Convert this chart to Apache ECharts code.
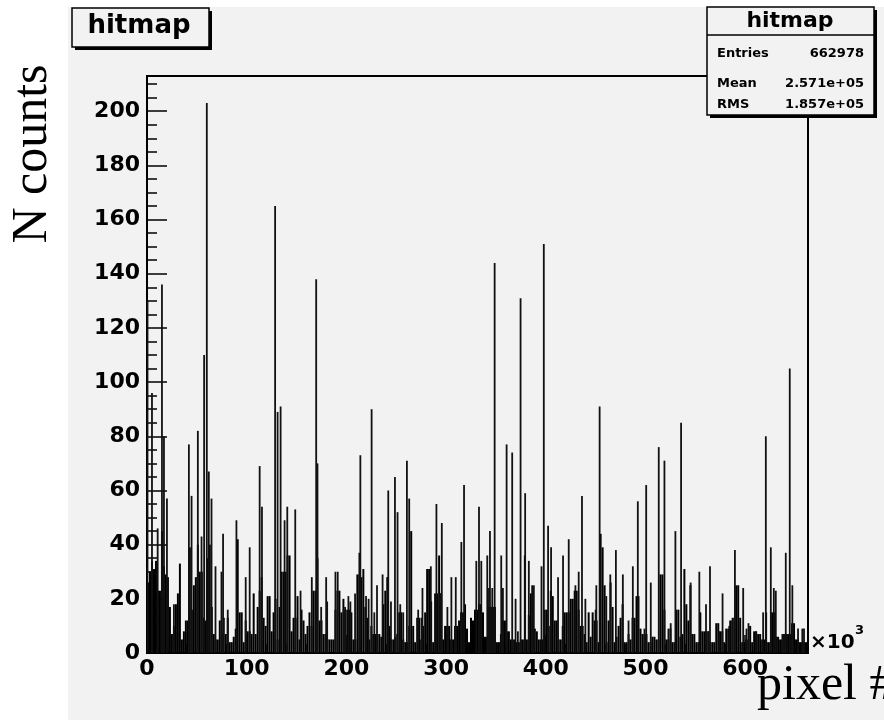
<!DOCTYPE html>
<html>
<head>
<meta charset="utf-8">
<title>hitmap</title>
<script src="https://cdn.jsdelivr.net/npm/echarts@6/dist/echarts.min.js"></script>
<style>
  html, body { margin: 0; padding: 0; background: #fff; }
  #main { width: 884px; height: 720px; }
</style>
</head>
<body>
<div id="main"></div>
<script>
  // histogram "hitmap": counts per pixel, x in units of 10^3 pixels
  var binWidth = 2;
  // bulk level of each 2k-wide bin (x = 0, 2, 4 ... 660)
  var fillLevels = [
    26, 30, 34, 31, 34, 23, 23, 45, 32, 29,
    28, 17, 7, 10, 18, 22, 33, 5, 8, 12,
    12, 39, 16, 25, 28, 40, 30, 30, 13, 12,
    35, 40, 17, 7, 5, 5, 12, 7, 13, 7,
    13, 4, 4, 6, 9, 42, 15, 15, 4, 12,
    8, 8, 7, 22, 7, 17, 23, 28, 13, 10,
    21, 21, 8, 15, 20, 5, 17, 30, 30, 30,
    36, 36, 8, 13, 13, 21, 5, 16, 12, 7,
    10, 15, 10, 23, 23, 35, 12, 12, 7, 7,
    5, 5, 5, 5, 16, 23, 23, 15, 20, 16,
    16, 16, 15, 5, 5, 29, 29, 28, 31, 17,
    13, 5, 10, 7, 7, 7, 7, 6, 18, 23,
    28, 10, 5, 5, 6, 7, 15, 15, 5, 4,
    4, 10, 45, 10, 4, 13, 13, 5, 10, 15,
    31, 31, 19, 4, 22, 22, 36, 22, 5, 10,
    10, 10, 5, 5, 10, 10, 12, 15, 15, 18,
    9, 4, 13, 12, 16, 16, 18, 18, 15, 6,
    6, 17, 17, 17, 17, 4, 4, 7, 12, 12,
    8, 8, 5, 5, 5, 4, 4, 5, 5, 36,
    5, 14, 22, 9, 9, 8, 5, 5, 5, 16,
    16, 10, 23, 21, 12, 12, 5, 5, 10, 15,
    15, 15, 20, 20, 23, 23, 16, 10, 10, 7,
    4, 15, 6, 15, 12, 12, 4, 44, 39, 25,
    4, 12, 26, 17, 4, 6, 10, 13, 18, 4,
    4, 7, 5, 13, 13, 21, 21, 9, 7, 7,
    7, 4, 4, 6, 6, 5, 5, 29, 29, 16,
    5, 5, 9, 4, 4, 16, 16, 6, 7, 31,
    18, 12, 25, 7, 7, 4, 4, 15, 8, 8,
    8, 8, 4, 4, 4, 11, 11, 8, 8, 4,
    9, 9, 12, 12, 13, 25, 25, 13, 4, 4,
    5, 5, 10, 4, 8, 8, 7, 7, 5, 5,
    15, 4, 4, 15, 15, 6, 6, 5, 5, 7,
    7, 7, 7, 11, 11, 5, 5, 4, 4, 4,
    4
  ];
  // single hot bins that stick out of the bulk
  var spikePos = [
    0.5, 5, 10.7, 15, 17, 20, 27, 42, 44.7, 51, 54.7, 57.3, 60, 62, 64.7, 68.7,
    74.7, 76.3, 81, 89.7, 99, 103, 113, 115.3, 128.5, 131, 134, 138, 140.7,
    148.7, 154, 165.3, 169.7, 171, 174.7, 179.7, 180.7, 189, 191.3, 197.3,
    198.7, 202, 204, 208.7, 213, 214,
    219.7, 222.3, 225.3, 228, 230.7, 236.3, 242, 244.7, 248.7, 251.3, 254, 257,
    260.7, 263, 272, 275.3, 276.3, 284.7, 290.3, 294, 295.7, 301.3, 305.3,
    309.7, 315.3, 318, 330.3, 333, 335.3, 341.3, 343, 344, 346.3, 348.7, 355.3,
    357, 360.7, 366.3, 369.7, 372, 374.7, 379.3, 383, 386.3, 388, 395.7, 398,
    402.3, 405.3, 412.3, 417.3, 423, 429.7, 433, 436.3,
    439.7, 450, 450.7, 454, 460.7, 464.7, 470.3, 477.3, 483, 487.3, 492.3, 499,
    500.7, 505.3, 513.3, 519, 523, 525.3, 530, 535.7, 545.3, 554, 560.7, 563,
    564.7, 574, 577.3, 584, 587.3, 589.7, 598, 601.3, 603.3, 610.7, 618, 620.7,
    625.7, 628.7, 630.7, 637.3, 639, 640.7, 644.7, 647.3, 653, 657.3, 659
  ];
  var spikeCount = [
    130, 96, 46, 136, 80, 57, 18, 77, 58, 82, 43, 110, 203, 67, 57, 32,
    30, 44, 16, 49, 28, 39, 69, 54, 165, 89, 91, 49, 54,
    53, 23, 28, 138, 70, 17, 28, 19, 30, 30, 16,
    17, 21, 19, 22, 37, 73,
    21, 20, 90, 15, 25, 29, 60, 19, 65, 52, 18, 15,
    71, 57, 16, 13, 24, 32, 55, 22, 48, 17, 28,
    28, 41, 62, 34, 54, 34, 36, 24, 45, 24, 144, 36,
    24, 77, 74, 20, 8, 131, 59, 34, 25, 25, 32, 151,
    47, 39, 28, 36, 42, 25, 30, 58,
    20, 16, 25, 91, 21, 29, 38, 29, 12, 32, 56, 9,
    62, 26, 76, 71, 9, 11, 45, 85, 26, 30, 18, 8,
    32, 8, 22, 10, 13, 38, 24, 9, 11, 8, 15, 80,
    39, 24, 23, 7, 7, 37, 105, 25, 9, 9, 9
  ];
  var xMax = 663;
  var yMax = 213;
  var statLabels = ['Entries', 'Mean', 'RMS'];
  var statValues = ['662978', '2.571e+05', '1.857e+05'];

  var bold = 'DejaVu Sans';
  var serif = 'Liberation Serif';

  var fillData = fillLevels.map(function (v, i) {
    return [i * binWidth, (i + 1) * binWidth, v];
  });
  var spikeData = spikePos.map(function (x, i) {
    return [x, spikeCount[i]];
  });

  var myChart = echarts.init(document.getElementById('main'), null, { renderer: 'canvas' });

  function label(text, x, y, font, align, extra) {
    var el = {
      type: 'text', z: 102, x: x, y: y,
      style: { text: text, fill: '#000', font: font, textAlign: align, textVerticalAlign: 'middle' }
    };
    if (extra) { for (var k in extra) el[k] = extra[k]; }
    return el;
  }

  var statGraphics = [];
  var statRowY = [54, 83.5, 104.5];
  statLabels.forEach(function (name, i) {
    statGraphics.push(label(name, 717, statRowY[i], 'bold 13px "' + bold + '"', 'left'));
    statGraphics.push(label(statValues[i], 864, statRowY[i], 'bold 13px "' + bold + '"', 'right'));
  });

  var option = {
    animation: false,
    backgroundColor: '#fff',
    grid: {
      left: 147, top: 76, width: 661, height: 577,
      show: true, borderColor: '#000', borderWidth: 2, backgroundColor: 'transparent'
    },
    xAxis: {
      type: 'value', min: 0, max: xMax, interval: 100,
      axisLine: { lineStyle: { color: '#000', width: 2 } },
      axisTick: { inside: true, length: 18, lineStyle: { color: '#000', width: 1.5 } },
      minorTick: { show: true, splitNumber: 5, length: 9, lineStyle: { color: '#000', width: 1.5 } },
      splitLine: { show: false },
      axisLabel: { showMaxLabel: false, color: '#000', fontFamily: bold, fontWeight: 'bold', fontSize: 22, margin: 5 }
    },
    yAxis: {
      type: 'value', min: 0, max: yMax, interval: 20,
      axisLine: { lineStyle: { color: '#000', width: 2 } },
      axisTick: { inside: true, length: 20, lineStyle: { color: '#000', width: 1.5 } },
      minorTick: { show: true, splitNumber: 4, length: 10, lineStyle: { color: '#000', width: 1.5 } },
      splitLine: { show: false },
      axisLabel: { showMaxLabel: false, color: '#000', fontFamily: bold, fontWeight: 'bold', fontSize: 22, margin: 7 }
    },
    series: [
      {
        name: 'bulk',
        type: 'custom',
        clip: true,
        encode: { x: [0, 1], y: 2 },
        data: fillData,
        renderItem: function (params, api) {
          var top = api.coord([api.value(0), api.value(2)]);
          var bottom = api.coord([api.value(1), 0]);
          return {
            type: 'rect',
            shape: { x: top[0], y: top[1], width: bottom[0] - top[0], height: bottom[1] - top[1] },
            style: { fill: '#000' }
          };
        }
      },
      {
        name: 'spikes',
        type: 'custom',
        clip: true,
        encode: { x: 0, y: 1 },
        data: spikeData,
        renderItem: function (params, api) {
          var top = api.coord([api.value(0), api.value(1)]);
          var bottom = api.coord([api.value(0), 0]);
          return {
            type: 'line',
            shape: { x1: top[0], y1: top[1], x2: bottom[0], y2: bottom[1] },
            style: { stroke: '#111', lineWidth: 1.8 }
          };
        }
      }
    ],
    graphic: [
      // grey pad
      { type: 'rect', z: -100, silent: true, shape: { x: 68, y: 7, width: 816, height: 713 }, style: { fill: '#f2f2f2' } },
      // title box
      { type: 'rect', z: 100, shape: { x: 75, y: 11, width: 137, height: 39 }, style: { fill: '#000' } },
      { type: 'rect', z: 101, shape: { x: 72, y: 8, width: 137, height: 39 }, style: { fill: '#f2f2f2', stroke: '#000', lineWidth: 1.5 } },
      label('hitmap', 139, 26, 'bold 26px "' + bold + '"', 'center'),
      // stats box
      { type: 'rect', z: 100, shape: { x: 710, y: 10, width: 167, height: 108 }, style: { fill: '#000' } },
      { type: 'rect', z: 101, shape: { x: 707, y: 7, width: 167, height: 108 }, style: { fill: '#f2f2f2', stroke: '#000', lineWidth: 1.5 } },
      { type: 'line', z: 102, shape: { x1: 707, y1: 35, x2: 874, y2: 35 }, style: { stroke: '#000', lineWidth: 1.5 } },
      label('hitmap', 790, 21.5, 'bold 22px "' + bold + '"', 'center')
    ].concat(statGraphics).concat([
      // axis titles
      label('N counts', 33, 154, '50px "' + serif + '"', 'center', { rotation: Math.PI / 2 }),
      label('pixel #', 757, 686, '50px "' + serif + '"', 'left'),
      // x10^3 multiplier
      label('\u00d710', 810, 643, 'bold 20px "' + bold + '"', 'left'),
      label('3', 855, 631, 'bold 13px "' + bold + '"', 'left')
    ])
  };

  myChart.setOption(option);
</script>
</body>
</html>
